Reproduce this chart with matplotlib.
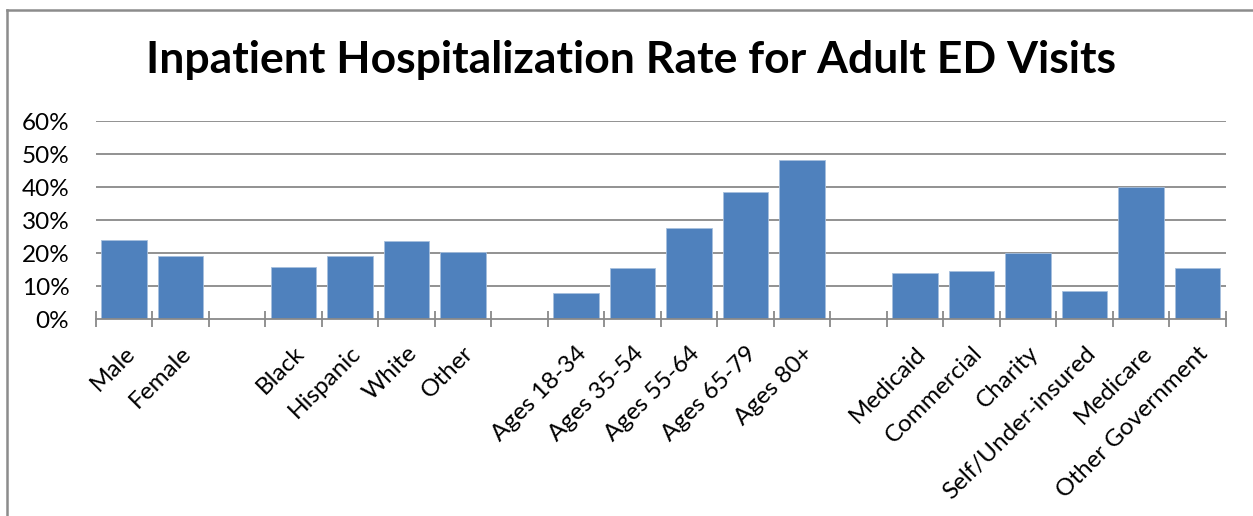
import matplotlib
matplotlib.use("Agg")
import matplotlib.pyplot as plt
from matplotlib.lines import Line2D

categories = ["Male", "Female", "", "Black", "Hispanic", "White", "Other", "",
              "Ages 18-34", "Ages 35-54", "Ages 55-64", "Ages 65-79", "Ages 80+", "",
              "Medicaid", "Commercial", "Charity", "Self/Under-insured", "Medicare",
              "Other Government"]
values = [0.239, 0.191, None, 0.158, 0.192, 0.237, 0.204, None,
          0.078, 0.154, 0.275, 0.384, 0.484, None,
          0.139, 0.146, 0.200, 0.086, 0.401, 0.155]
yticks = [0, 0.1, 0.2, 0.3, 0.4, 0.5, 0.6]
ytick_labels = ["0%", "10%", "20%", "30%", "40%", "50%", "60%"]
title = "Inpatient Hospitalization Rate for Adult ED Visits"

plt.rcParams['font.family'] = ['Lato', 'DejaVu Sans']

W, H = 1253, 516
fig = plt.figure(figsize=(W / 100, H / 100), dpi=100)
ax = fig.add_axes([95.7 / W, 1 - 319 / H, 1130 / W, 197.7 / H])

bar_color = "#4F81BD"
grid_color = "#898989"
xs = [i + 0.5 for i, v in enumerate(values) if v is not None]
hs = [v for v in values if v is not None]
ax.bar(xs, hs, width=0.8, color=bar_color, edgecolor="#A7C0DE", linewidth=0.6, zorder=3)

ax.set_xlim(0, len(categories))
ax.set_ylim(0, 0.6)
ax.set_yticks(yticks)
ax.set_yticklabels(ytick_labels, fontsize=17.5)
ax.tick_params(axis='y', length=0, pad=19)
for y in yticks[1:]:
    ax.axhline(y, color=grid_color, lw=1.3, zorder=1)

ax.set_xticks(range(len(categories) + 1))
ax.set_xticklabels([])
ax.tick_params(axis='x', which='major', direction='inout', length=12, width=1.3, color=grid_color)
ax.set_xticks([i + 0.5 for i in range(len(categories))], minor=True)
ax.set_xticklabels(categories, minor=True, rotation=45, ha='right', va='top',
                   rotation_mode='anchor', fontsize=17.5)
ax.tick_params(axis='x', which='minor', length=0, pad=17)

for s in ['top', 'right', 'left']:
    ax.spines[s].set_visible(False)
ax.spines['bottom'].set_color(grid_color)
ax.spines['bottom'].set_linewidth(1.3)
ax.spines['bottom'].set_zorder(4)

fig.text(0.5035, 1 - 60 / H, title, ha='center', va='center', fontsize=32, fontweight='bold')

# outer chart border (left and top visible)
fig.add_artist(Line2D([7 / W, 7 / W], [0, 1 - 9.5 / H], transform=fig.transFigure, color="#8c8c8c", lw=1.8))
fig.add_artist(Line2D([7 / W, 1], [1 - 9.5 / H, 1 - 9.5 / H], transform=fig.transFigure, color="#8c8c8c", lw=1.8))

fig.savefig("out.png", dpi=100)
